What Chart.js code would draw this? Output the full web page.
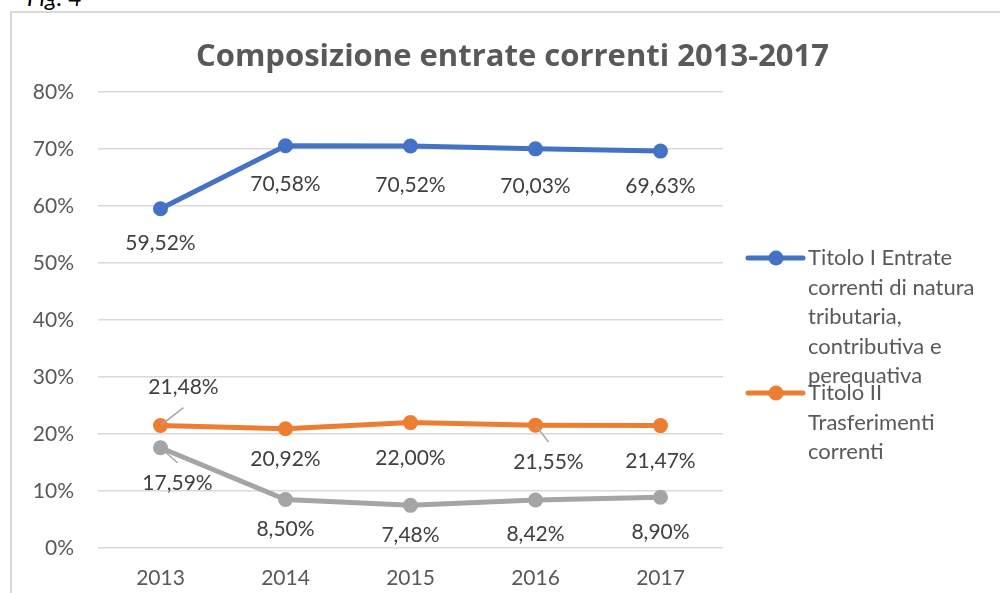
<!DOCTYPE html>
<html>
<head>
<meta charset="utf-8">
<script src="https://cdn.jsdelivr.net/npm/chart.js@4"></script>
<style>
  html, body { margin: 0; padding: 0; background: #ffffff; overflow: hidden; width: 1000px; height: 593px; }
  #fig { position: absolute; left: 27px; top: -15px; font-family: Lato, "Noto Sans", sans-serif; font-style: italic; font-size: 24px; line-height: 24px; color: #000; }
  #frame { position: absolute; left: 10px; top: 11px; width: 1100px; height: 700px; border: 2px solid #d9d9d9; box-sizing: border-box; }
  #c { position: absolute; left: 0; top: 0; }
</style>
</head>
<body>
<div id="fig">Fig. 4</div>
<div id="frame"></div>
<canvas id="c" width="1000" height="593"></canvas>
<script>
// ---- data ----
const chartTitle = 'Composizione entrate correnti 2013-2017';
const years = ['2013', '2014', '2015', '2016', '2017'];
const seriesNames = [
  'Titolo I Entrate correnti di natura tributaria, contributiva e perequativa',
  'Titolo II Trasferimenti correnti',
  'Titolo III Entrate extratributarie'
];
const titoloI = [59.52, 70.58, 70.52, 70.03, 69.63];
const titoloII = [21.48, 20.92, 22.00, 21.55, 21.47];
const titoloIII = [17.59, 8.50, 7.48, 8.42, 8.90];
const yTickMin = 0, yTickMax = 80, yTickStep = 10;

// ---- styling / label placement ----
const colors = ['#4472C4', '#ED7D31', '#A5A5A5'];
const showInLegend = [true, true, false];
const labelOffsets = [
  [[0, 34], [0, 39], [0, 39], [0, 37], [0, 35]],
  [[23, -38], [0, 30], [0, 36], [13, 37], [0, 36]],
  [[17, 35], [0, 30], [0, 30], [0, 34], [0, 35]]
];
const leaderLines = [
  [false, false, false, false, false],
  [true, false, false, true, false],
  [true, false, false, false, false]
];
const FONT = 'Lato, "Noto Sans", sans-serif';

const fmt = v => v.toFixed(2).replace('.', ',') + '%';

const dataLabelPlugin = {
  id: 'dataLabels',
  afterDatasetsDraw(chart) {
    const ctx = chart.ctx;
    ctx.save();
    ctx.font = '21px ' + FONT;
    ctx.textAlign = 'center';
    ctx.textBaseline = 'middle';
    chart.data.datasets.forEach((ds, di) => {
      const meta = chart.getDatasetMeta(di);
      meta.data.forEach((pt, i) => {
        const [dx, dy] = labelOffsets[di][i];
        const lx = pt.x + dx, ly = pt.y + dy;
        if (leaderLines[di][i]) {
          ctx.strokeStyle = '#A6A6A6';
          ctx.lineWidth = 1.5;
          ctx.beginPath();
          ctx.moveTo(pt.x + 1, pt.y + (dy < 0 ? -1 : 1));
          ctx.lineTo(lx, ly + (dy < 0 ? 20 : -20));
          ctx.stroke();
        }
        ctx.fillStyle = '#404040';
        ctx.fillText(fmt(ds.data[i]), lx, ly);
      });
    });
    ctx.restore();
  }
};

const legendPlugin = {
  id: 'wrappedLegend',
  afterDraw(chart) {
    const ctx = chart.ctx;
    const area = chart.chartArea;
    ctx.save();
    ctx.font = '22px ' + FONT;
    ctx.textBaseline = 'middle';
    ctx.textAlign = 'left';
    const maxW = 185, lineH = 29.5;
    const startX = area.right + 25;
    const entryStarts = [258, 393];
    let k = 0;
    chart.data.datasets.forEach((ds, di) => {
      if (!showInLegend[di]) return;
      const words = ds.label.split(' ');
      const lines = [];
      let cur = '';
      words.forEach(w => {
        const t = cur ? cur + ' ' + w : w;
        if (ctx.measureText(t).width > maxW && cur) { lines.push(cur); cur = w; } else { cur = t; }
      });
      if (cur) lines.push(cur);
      const y = entryStarts[k++];
      ctx.strokeStyle = ds.borderColor;
      ctx.lineWidth = 5;
      ctx.lineCap = 'round';
      ctx.beginPath();
      ctx.moveTo(startX, y);
      ctx.lineTo(startX + 55, y);
      ctx.stroke();
      ctx.fillStyle = ds.borderColor;
      ctx.beginPath();
      ctx.arc(startX + 28, y, 7.5, 0, Math.PI * 2);
      ctx.fill();
      ctx.fillStyle = '#595959';
      lines.forEach((ln, li) => {
        ctx.fillText(ln, startX + 60, y + li * lineH);
      });
    });
    ctx.restore();
  }
};

const seriesValues = [titoloI, titoloII, titoloIII];

new Chart(document.getElementById('c'), {
  type: 'line',
  data: {
    labels: years,
    datasets: seriesValues.map((vals, i) => ({
      label: seriesNames[i],
      data: vals,
      borderColor: colors[i],
      backgroundColor: colors[i],
      borderWidth: 5,
      pointRadius: 7.5,
      pointHoverRadius: 7.5,
      pointBackgroundColor: colors[i],
      pointBorderWidth: 0,
      tension: 0,
      fill: false,
      yAxisID: 'y'
    }))
  },
  options: {
    responsive: false,
    devicePixelRatio: 1,
    animation: false,
    events: [],
    layout: { padding: { left: 25, right: 0, top: 0, bottom: 0 } },
    plugins: {
      legend: { display: false },
      tooltip: { enabled: false },
      title: {
        display: true,
        text: chartTitle,
        color: '#595959',
        font: { family: '"Open Sans", Lato, sans-serif', size: 31, weight: 'bold', lineHeight: 1.25 },
        padding: { top: 38, bottom: 15.25 }
      }
    },
    scales: {
      x: {
        offset: true,
        grid: { display: false, drawTicks: false },
        border: { display: false },
        ticks: { color: '#595959', font: { family: FONT, size: 21 }, padding: 18 },
        afterFit(s) { s.height = 45; }
      },
      y: {
        min: yTickMin,
        max: yTickMax,
        grid: { color: '#d9d9d9', lineWidth: 1.5, drawTicks: false },
        border: { display: false },
        ticks: { stepSize: yTickStep, color: '#595959', font: { family: FONT, size: 21 }, padding: 24, callback: v => v + '%' },
        afterFit(s) { s.width = 73; }
      },
      yR: {
        type: 'linear',
        position: 'right',
        display: true,
        grid: { display: false },
        border: { display: false },
        ticks: { display: false },
        afterFit(s) { s.width = 277; }
      }
    }
  },
  plugins: [dataLabelPlugin, legendPlugin]
});
</script>
</body>
</html>
